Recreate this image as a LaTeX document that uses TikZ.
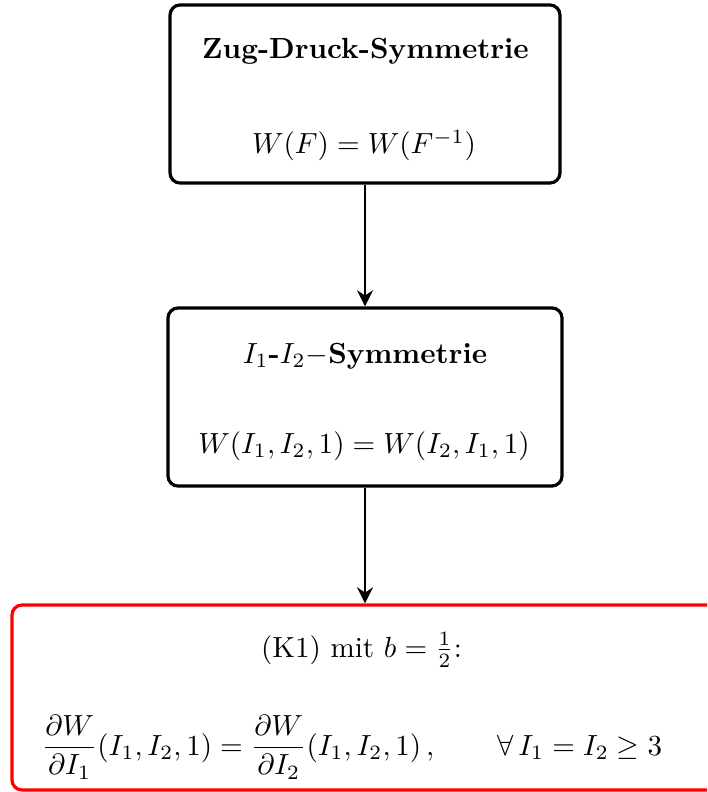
\documentclass[tikz,border=0pt]{standalone}
\usepackage{amsmath,amssymb}
\usetikzlibrary{arrows.meta}
\tikzset{
  boxstyle/.style={draw=black, line width=1.1pt, rounded corners=3.5pt, rectangle, inner sep=0pt},
  redbox/.style={draw=red, line width=1.1pt, rounded corners=3.5pt, rectangle, inner sep=0pt},
  txt/.style={inner sep=0pt, anchor=base},
  conn/.style={line width=1pt, -{Stealth[length=5.5pt,width=5.5pt,inset=1.8pt]}}
}
\begin{document}
\begin{tikzpicture}[x=0.3436pt, y=-0.3436pt]
\clip (0,0) rectangle (707,792);
\node[boxstyle, minimum width=134pt, minimum height=61.2pt] (top) at (365,94) {};
\node[boxstyle, minimum width=135.4pt, minimum height=61.2pt] (mid) at (365,397) {};
\node[redbox, minimum width=242.6pt, minimum height=63.6pt] (bot) at (365,697.5) {};
\node[txt] (t1) at (365.5,59) {\textbf{Zug-Druck-Symmetrie}};
\node[txt] (f1) at (364,154) {$W(F) = W(F^{-1})$};
\node[txt] (t2) at (365,363) {$I_1$\textbf{-}$I_2$$-$\textbf{Symmetrie}};
\node[txt] (f2) at (364,453) {$W(I_1,I_2,1) = W(I_2,I_1,1)$};
\node[txt] (t3) at (361.5,657) {(K1) mit $b=\frac{1}{2}$:};
\node[txt] (f3) at (352,755) {$\displaystyle \frac{\partial W}{\partial I_1}(I_1,I_2,1) = \frac{\partial W}{\partial I_2}(I_1,I_2,1)\,, \qquad \forall\, I_1 = I_2 \geq 3$};
\draw[conn] (top.south) -- (mid.north);
\draw[conn] (mid.south) -- (bot.north);
\end{tikzpicture}
\end{document}
